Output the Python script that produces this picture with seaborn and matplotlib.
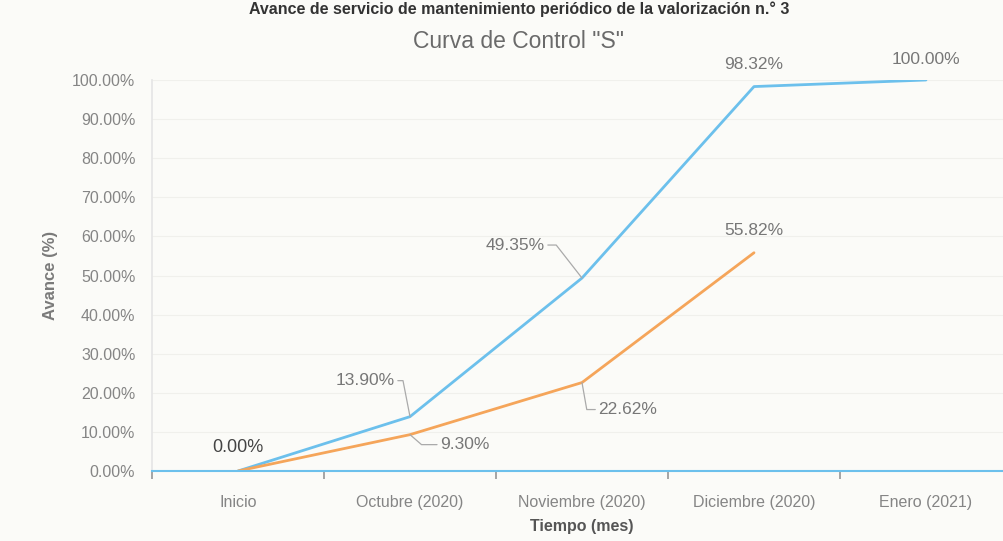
import pandas as pd
import seaborn as sns
import matplotlib.pyplot as plt
from matplotlib.ticker import PercentFormatter

# data (fraction of progress)
meses = ['Inicio', 'Octubre (2020)', 'Noviembre (2020)', 'Diciembre (2020)', 'Enero (2021)']
programado = [0.0, 0.1390, 0.4935, 0.9832, 1.0]
ejecutado = [0.0, 0.0930, 0.2262, 0.5582]

df = pd.concat([
    pd.DataFrame({'mes': meses, 'avance': programado, 'serie': 'Programado'}),
    pd.DataFrame({'mes': meses[:len(ejecutado)], 'avance': ejecutado, 'serie': 'Ejecutado'}),
])

sns.set_theme(style='white')
plt.rcParams['font.family'] = ['Liberation Sans', 'DejaVu Sans']

fig = plt.figure(figsize=(10.04, 5.41), dpi=100, facecolor='#fbfbf8')
ax = fig.add_axes([152 / 1004, 70 / 541, 860 / 1004, 391 / 541])
ax.set_facecolor('#fbfbf8')

sns.lineplot(data=df, x='mes', y='avance', hue='serie', sort=False,
             palette={'Programado': '#6cc0ec', 'Ejecutado': '#f5a55a'},
             linewidth=2, legend=False, ax=ax)

ax.set_xlim(-0.5, 4.5)
ax.set_ylim(0, 1.0)
ax.set_yticks([i / 10 for i in range(11)])
ax.yaxis.set_major_formatter(PercentFormatter(1.0, decimals=2))
ax.grid(axis='y', color='#f0f0ec', lw=0.8)
for s in ['top', 'right']:
    ax.spines[s].set_visible(False)
ax.spines['left'].set_color('#e6e6e6')
ax.spines['bottom'].set_color('#6cc0ec')
ax.spines['bottom'].set_linewidth(1.5)
ax.set_xticks([-0.5, 0.5, 1.5, 2.5, 3.5], minor=False)
ax.set_xticklabels([])
ax.set_xticks(range(5), minor=True)
ax.set_xticklabels(meses, minor=True)
ax.tick_params(axis='x', which='major', length=6, color='#9a9a9a', direction='out', bottom=True)
ax.tick_params(axis='x', which='minor', length=0, labelsize=11.5, labelcolor='#858585', pad=17)
ax.tick_params(axis='y', labelsize=11.5, labelcolor='#858585', length=0, pad=12)

ax.set_xlabel('Tiempo (mes)', fontsize=11.5, fontweight='bold', color='#555555', labelpad=7)
ax.set_ylabel('Avance (%)', fontsize=12, fontweight='bold', color='#7a7a7a', labelpad=10)

fig.text(519 / 1004, 1 - 42 / 541, 'Curva de Control "S"', ha='center', va='center',
         fontsize=16.5, color='#6a6a6a')
fig.text(519 / 1004, 0.998, 'Avance de servicio de mantenimiento periódico de la valorización n.° 3',
         ha='center', va='top', fontsize=11.5, fontweight='bold', color='#333333')

# data labels with leader lines
lab = dict(fontsize=12.5, color='#777777', ha='center', va='center', textcoords='offset pixels')


def lead(angle):
    return dict(arrowstyle='-', color='#aaaaaa', lw=0.9, shrinkA=0, shrinkB=0,
                connectionstyle=f'angle,angleA=0,angleB={angle},rad=0')


ax.annotate('0.00%', (0, 0), xytext=(0, 24), **{**lab, 'color': '#444444', 'fontsize': 13})
ax.annotate('13.90%', (1, programado[1]), xytext=(-45, 36), arrowprops=lead(101), **lab)
ax.annotate('49.35%', (2, programado[2]), xytext=(-67, 33), arrowprops=lead(128), **lab)
ax.annotate('98.32%', (3, programado[3]), xytext=(0, 22), **lab)
ax.annotate('100.00%', (4, programado[4]), xytext=(0, 20), annotation_clip=False, **lab)
ax.annotate('9.30%', (1, ejecutado[1]), xytext=(55, -10), arrowprops=lead(-41), **lab)
ax.annotate('22.62%', (2, ejecutado[2]), xytext=(46, -27), arrowprops=lead(-80), **lab)
ax.annotate('55.82%', (3, ejecutado[3]), xytext=(0, 22), **lab)

fig.savefig('out.png', dpi=100, facecolor=fig.get_facecolor())
